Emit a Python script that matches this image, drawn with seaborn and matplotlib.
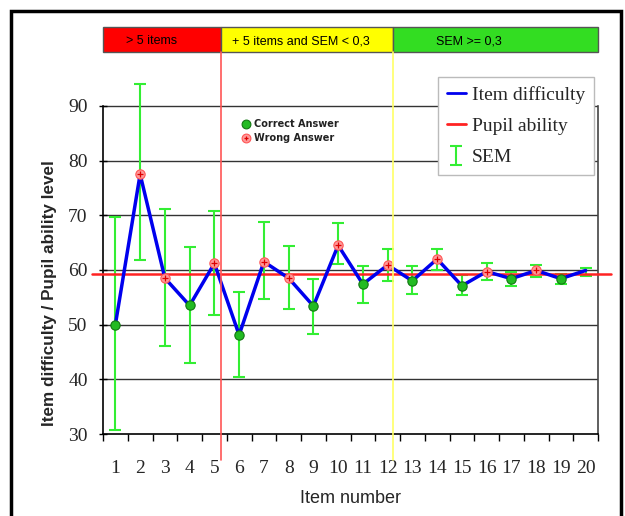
import matplotlib
matplotlib.use("Agg")
import matplotlib.pyplot as plt
import matplotlib.transforms as mtransforms
from matplotlib.patches import Rectangle
from matplotlib.lines import Line2D
import seaborn as sns
import pandas as pd
import numpy as np

# --- Data ---
items = list(range(1, 21))
difficulty = [50.0, 77.5, 58.5, 53.5, 61.2, 48.1, 61.5, 58.5, 53.4, 64.5,
              57.4, 60.9, 58.0, 62.0, 57.1, 59.7, 58.4, 59.9, 58.4, 59.9]
sem_low = [30.7, 61.8, 46.0, 42.9, 51.8, 40.5, 54.7, 52.9, 48.2, 61.0,
           53.9, 57.9, 55.6, 59.9, 55.4, 58.2, 57.1, 58.7, 57.4, 58.9]
sem_high = [69.7, 94.0, 71.2, 64.2, 70.8, 55.9, 68.7, 64.3, 58.4, 68.5,
            60.8, 63.8, 60.7, 63.8, 59.1, 61.2, 59.6, 60.9, 59.3, 60.4]
answer = ['Correct', 'Wrong', 'Wrong', 'Correct', 'Wrong', 'Correct', 'Wrong',
          'Wrong', 'Correct', 'Wrong', 'Correct', 'Wrong', 'Correct', 'Wrong',
          'Correct', 'Wrong', 'Correct', 'Wrong', 'Correct', 'None']
pupil_ability = 59.2
yticks = [30, 40, 50, 60, 70, 80, 90]

# phase bands along the top
band_labels = ['> 5 items', '+ 5 items and SEM < 0,3', 'SEM >= 0,3']
band_edges = [0.5, 5.28, 12.22, 20.5]
band_colors = ['#ff0000', '#ffff00', '#33dd22']
band_text_x = [1.43, 5.71, 13.95]

df = pd.DataFrame({'item': items, 'difficulty': difficulty,
                   'low': sem_low, 'high': sem_high, 'answer': answer})

# --- Plotting setup ---
sns.set_theme(style="white")
plt.rcParams['font.family'] = ['DejaVu Sans']
fig = plt.figure(figsize=(6.25, 5.16), dpi=100)
ax = fig.add_axes([0.1648, 0.1589, 0.792, 0.6996])

# gridlines
for y in yticks[1:]:
    ax.axhline(y, color='#333333', lw=1, zorder=0)

# SEM error bars
yerr = [df['difficulty'] - df['low'], df['high'] - df['difficulty']]
eb = ax.errorbar(df['item'], df['difficulty'], yerr=yerr, fmt='none',
                 ecolor='#33ee33', elinewidth=1.5, capsize=4, capthick=1.5,
                 zorder=2, clip_on=False, label='SEM')

# pupil ability line
ax.axhline(pupil_ability, xmin=-0.022, xmax=1.027, color='#ff2222', lw=1.8,
           clip_on=False, zorder=3)

# item difficulty line
sns.lineplot(data=df, x='item', y='difficulty', ax=ax, color='#0000ee',
             lw=2.5, zorder=4, legend=False)

# markers
ok = df[df['answer'] == 'Correct']
bad = df[df['answer'] == 'Wrong']
sns.scatterplot(data=ok, x='item', y='difficulty', ax=ax, color='#22bb22',
                edgecolor='#117711', linewidth=0.8, s=45, zorder=5, legend=False)
sns.scatterplot(data=bad, x='item', y='difficulty', ax=ax, color='#ff9999',
                edgecolor='#ff5555', linewidth=0.8, s=45, zorder=5, legend=False)
ax.scatter(bad['item'], bad['difficulty'], marker='+', color='#dd0000',
           s=14, linewidths=0.9, zorder=6)

# inline answer key
ax.scatter([6.28], [86.7], color='#22bb22', edgecolor='#117711', s=40,
           linewidth=0.8, zorder=5)
ax.scatter([6.28], [84.1], color='#ff9999', edgecolor='#ff5555', s=40,
           linewidth=0.8, zorder=5)
ax.scatter([6.28], [84.1], marker='+', color='#dd0000', s=12, linewidths=0.9, zorder=6)
ax.text(6.6, 86.7, 'Correct Answer', fontsize=7, fontweight='bold',
        color='#222222', va='center', ha='left')
ax.text(6.6, 84.1, 'Wrong Answer', fontsize=7, fontweight='bold',
        color='#222222', va='center', ha='left')

# axes styling
ax.set_xlim(0.5, 20.5)
ax.set_ylim(30, 96)
ax.set_yticks(yticks)
ax.set_xticks(items)
ax.set_xticks(np.arange(0.5, 21, 1), minor=True)
ax.spines['top'].set_visible(False)
ax.spines['left'].set_bounds(30, 90)
ax.spines['right'].set_bounds(30, 90)
ax.spines['left'].set_color('black')
ax.spines['bottom'].set_color('black')
ax.spines['right'].set_color('#444444')
for s in ['left', 'bottom', 'right']:
    ax.spines[s].set_linewidth(1.2)
ax.tick_params(axis='x', which='major', length=0, pad=19)
ax.tick_params(axis='x', which='minor', length=5, width=1, color='black',
               direction='out', bottom=True)
ax.tick_params(axis='y', length=6, width=1, color='black', direction='inout',
               left=True, pad=8)
ax.set_xticklabels([str(i) for i in items])
for lab in ax.get_xticklabels() + ax.get_yticklabels():
    lab.set_family('Liberation Serif')
    lab.set_fontsize(14)

ax.set_xlabel('Item number', fontsize=13, family='Liberation Sans', labelpad=9)
ax.set_ylabel('Item difficulty / Pupil ability level', fontsize=12.3,
              family='Liberation Sans', fontweight='bold')
ax.yaxis.set_label_coords(-0.093, 0.39)

# top bands and phase separators
trans = mtransforms.blended_transform_factory(ax.transData, fig.transFigure)
band_y0 = 1 - 52 / 516
band_y1 = 1 - 27 / 516
for i in range(3):
    r = Rectangle((band_edges[i], band_y0), band_edges[i + 1] - band_edges[i],
                  band_y1 - band_y0, transform=trans, facecolor=band_colors[i],
                  edgecolor='#555555', lw=1, clip_on=False)
    fig.add_artist(r)
    fig.text(band_text_x[i], (band_y0 + band_y1) / 2 - 0.003, band_labels[i],
             transform=trans, fontsize=9, family='Liberation Sans',
             va='center', ha='left', color='black')

for xpos, col in [(band_edges[1], '#ff5555'), (band_edges[2], '#ffff66')]:
    fig.add_artist(Line2D([xpos, xpos], [1 - 460 / 516, band_y0], transform=trans,
                          color=col, lw=1.2, zorder=1))

# legend
handles = [Line2D([], [], color='#0000ee', lw=2),
           Line2D([], [], color='#ff2222', lw=2),
           eb]
leg = fig.legend(handles, ['Item difficulty', 'Pupil ability', 'SEM'],
                 loc='upper left', bbox_to_anchor=(438 / 625, 1 - 77 / 516),
                 prop={'family': 'Liberation Serif', 'size': 14},
                 handlelength=1.0, handletextpad=0.3, labelspacing=0.7,
                 borderpad=0.45, borderaxespad=0, fancybox=False, framealpha=1,
                 edgecolor='#bbbbbb')
leg.get_frame().set_linewidth(1)

# figure frame
fig.add_artist(Rectangle((11 / 625, -0.05), (621 - 11) / 625, 1.05 - 11 / 516,
                         transform=fig.transFigure, fill=False,
                         edgecolor='black', lw=2.5))

fig.savefig('out.png', dpi=100)
